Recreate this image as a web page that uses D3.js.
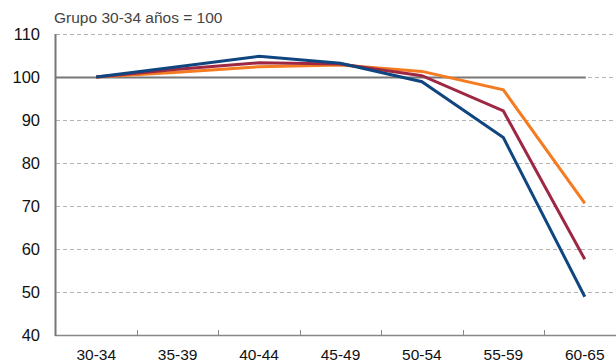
<!DOCTYPE html>
<html><head><meta charset="utf-8">
<script src="https://cdn.jsdelivr.net/npm/d3@7"></script>
<style>body{margin:0;background:#fff}svg{display:block}</style>
</head><body><svg id="c" width="616" height="364"></svg>
<script>
const categories = ["30-34","35-39","40-44","45-49","50-54","55-59","60-65"];
const serieBlue = [100, 102.4, 104.8, 103.2, 98.9, 85.9, 48.9];
const serieRed = [100, 101.8, 103.3, 103.0, 100.3, 92.1, 57.6];
const serieOrange = [100, 101.1, 102.4, 102.8, 101.3, 97.0, 70.6];
const yTicks = [40, 50, 60, 70, 80, 90, 100, 110];
const subtitle = "Grupo 30-34 años = 100";

const svg = d3.select("#c");
const x = d3.scaleBand().domain(categories).range([55.5, 625.5]);
const y = d3.scaleLinear().domain([40, 110]).range([335, 34]);
const font = "Helvetica, Arial, 'Liberation Sans', sans-serif";

// gridlines
svg.append("g").selectAll("line").data(yTicks.filter(d => d > 40)).join("line")
  .attr("x1", 56).attr("x2", 616)
  .attr("y1", d => Math.round(y(d)) + 0.5).attr("y2", d => Math.round(y(d)) + 0.5)
  .attr("stroke", "#b5b5b5").attr("stroke-width", 1).attr("stroke-dasharray", "4,3");

// solid base 100 line
svg.append("line")
  .attr("x1", 56).attr("x2", x("60-65") + x.bandwidth() / 2 + 1)
  .attr("y1", Math.round(y(100)) + 0.5).attr("y2", Math.round(y(100)) + 0.5)
  .attr("stroke", "#777").attr("stroke-width", 2);

// y axis labels
svg.append("g").selectAll("text").data(yTicks).join("text")
  .attr("x", 40).attr("y", d => y(d)).attr("dy", "0.35em")
  .attr("text-anchor", "end").attr("font-family", font).attr("font-size", 16.5)
  .attr("fill", "#111").text(d => d);

// x axis
const xAxis = d3.axisBottom(x).tickSize(0).tickPadding(0);
const gx = svg.append("g").attr("transform", "translate(0,335)").call(xAxis);
gx.select(".domain").remove();
gx.selectAll("text").attr("y", 19.5).attr("dy", "0.35em")
  .attr("font-family", font).attr("font-size", 15.5).attr("fill", "#111");
// tick marks at band boundaries, pointing up
svg.append("g").selectAll("line").data(categories.slice(1)).join("line")
  .attr("x1", d => Math.round(x(d)) + 0.5).attr("x2", d => Math.round(x(d)) + 0.5)
  .attr("y1", 330).attr("y2", 335).attr("stroke", "#888").attr("stroke-width", 1);
svg.append("line").attr("x1", 55).attr("x2", 616).attr("y1", 335.5).attr("y2", 335.5)
  .attr("stroke", "#888").attr("stroke-width", 1.5);
svg.append("line").attr("x1", 55.5).attr("x2", 55.5).attr("y1", 34).attr("y2", 336)
  .attr("stroke", "#777").attr("stroke-width", 2);

// subtitle
svg.append("text").attr("x", 54).attr("y", 17.5).attr("dy", "0.35em")
  .attr("font-family", font).attr("font-size", 15.5).attr("fill", "#444").text(subtitle);

const line = d3.line().x((d, i) => x(categories[i]) + x.bandwidth() / 2).y(d => y(d));
const series = [
  {v: serieOrange, c: "#f47b20"},
  {v: serieRed, c: "#9e2843"},
  {v: serieBlue, c: "#10467f"}
];
svg.append("g").selectAll("path").data(series).join("path")
  .attr("d", d => line(d.v)).attr("fill", "none")
  .attr("stroke", d => d.c).attr("stroke-width", 3).attr("stroke-linejoin", "miter");
</script></body></html>
